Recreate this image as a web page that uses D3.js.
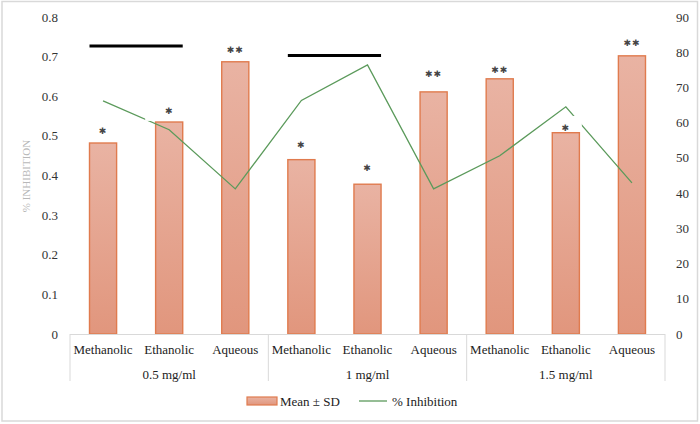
<!DOCTYPE html>
<html>
<head>
<meta charset="utf-8">
<script src="https://cdn.jsdelivr.net/npm/d3@7"></script>
<style>
  body { margin: 0; background: #fff; }
</style>
</head>
<body>
<svg id="chart" width="700" height="424"></svg>
<script>
// data
var groups = ['0.5 mg/ml', '1 mg/ml', '1.5 mg/ml'];
var extracts = ['Methanolic', 'Ethanolic', 'Aqueous'];
var meanSD = [0.482, 0.535, 0.687, 0.44, 0.378, 0.611, 0.644, 0.508, 0.702];
var inhibition = [66.2, 58.0, 41.2, 66.3, 76.4, 41.2, 50.6, 64.5, 42.9];
var stars = ['*', '*', '**', '*', '*', '**', '**', '*', '**'];
var starLevels = [0.513, 0.563, 0.717, 0.477, 0.419, 0.657, 0.667, 0.52, 0.735];
var brackets = [[0, 1, 0.727], [3, 4, 0.703]]; // from bar, to bar, level
var leftTicks = [0, 0.1, 0.2, 0.3, 0.4, 0.5, 0.6, 0.7, 0.8];
var rightTicks = [0, 10, 20, 30, 40, 50, 60, 70, 80, 90];

var serif = '"Liberation Serif", "Times New Roman", Tinos, "DejaVu Serif", serif';
var svg = d3.select('#chart').attr('font-family', serif);
var plotLeft = 70, plotRight = 665, plotTop = 17, plotBottom = 334;

// frame
svg.append('rect')
    .attr('x', 2).attr('y', 1.5).attr('width', 695.5).attr('height', 419.5)
    .attr('fill', '#fff').attr('stroke', '#d9d9d9').attr('stroke-width', 1.5);

var cats = d3.range(meanSD.length);
var x = d3.scaleBand().domain(cats).range([plotLeft, plotRight]);
var yL = d3.scaleLinear().domain([0, 0.8]).range([plotBottom, plotTop]);
var yR = d3.scaleLinear().domain([0, 90]).range([plotBottom, plotTop]);
var barW = x.bandwidth() * 0.41;
function cx(i) { return x(i) + x.bandwidth() / 2; }

var grad = svg.append('defs').append('linearGradient')
    .attr('id', 'barFill').attr('x1', 0).attr('y1', 0).attr('x2', 0).attr('y2', 1);
grad.append('stop').attr('offset', '0%').attr('stop-color', '#e9b3a3');
grad.append('stop').attr('offset', '100%').attr('stop-color', '#e1967d');

// left axis labels
svg.append('g').selectAll('text')
    .data(leftTicks)
  .enter().append('text')
    .attr('x', 58).attr('y', function (d) { return yL(d); })
    .attr('dy', '0.35em').attr('text-anchor', 'end')
    .attr('font-size', 13).attr('fill', '#333')
    .text(function (d) { return d === 0 ? '0' : d3.format('.1f')(d); });

// right axis labels
svg.append('g').selectAll('text')
    .data(rightTicks)
  .enter().append('text')
    .attr('x', 676).attr('y', function (d) { return yR(d); })
    .attr('dy', '0.35em').attr('text-anchor', 'start')
    .attr('font-size', 13).attr('fill', '#333')
    .text(function (d) { return d; });

svg.append('text')
    .attr('transform', 'translate(26,176) rotate(-90)')
    .attr('text-anchor', 'middle').attr('dy', '0.35em')
    .attr('font-size', 11).attr('fill', '#b8b8b8')
    .text('% INHIBITION');

// bars
svg.append('g').selectAll('rect')
    .data(meanSD)
  .enter().append('rect')
    .attr('x', function (d, i) { return cx(i) - barW / 2; })
    .attr('y', function (d) { return yL(d); })
    .attr('width', barW)
    .attr('height', function (d) { return plotBottom - yL(d); })
    .attr('fill', 'url(#barFill)')
    .attr('stroke', '#e07b4e').attr('stroke-width', 1.4);

// category axis
svg.append('line')
    .attr('x1', plotLeft).attr('x2', plotRight)
    .attr('y1', plotBottom + 0.5).attr('y2', plotBottom + 0.5)
    .attr('stroke', '#d9d9d9');
svg.append('g').selectAll('line')
    .data(d3.range(groups.length + 1))
  .enter().append('line')
    .attr('x1', function (g) { return g < groups.length ? x(g * 3) : plotRight; })
    .attr('x2', function (g) { return g < groups.length ? x(g * 3) : plotRight; })
    .attr('y1', plotBottom).attr('y2', 381)
    .attr('stroke', '#d9d9d9');

svg.append('g').selectAll('text')
    .data(cats)
  .enter().append('text')
    .attr('x', cx)
    .attr('y', 349).attr('dy', '0.35em').attr('text-anchor', 'middle')
    .attr('font-size', 13).attr('fill', '#222')
    .text(function (i) { return extracts[i % 3]; });

svg.append('g').selectAll('text')
    .data(groups)
  .enter().append('text')
    .attr('x', function (g, k) { return cx(k * 3 + 1); })
    .attr('y', 374).attr('dy', '0.35em').attr('text-anchor', 'middle')
    .attr('font-size', 13).attr('fill', '#222')
    .text(function (g) { return g; });

// % inhibition line
var line = d3.line()
    .x(function (d, i) { return cx(i); })
    .y(function (d) { return yR(d); });
svg.append('path')
    .datum(inhibition)
    .attr('d', line)
    .attr('fill', 'none').attr('stroke', '#5b9a5b').attr('stroke-width', 1.3);

// significance labels; the white boxes of two of them cut the line
var lab = svg.append('g').selectAll('g')
    .data(starLevels)
  .enter().append('g')
    .attr('transform', function (d, i) {
        return 'translate(' + cx(i) + ',' + yL(d) + ')';
    });
lab.filter(function (d, i) { return i === 1; })
    .append('rect')
    .attr('x', -24).attr('y', -11).attr('width', 44).attr('height', 21)
    .attr('fill', '#fff');
lab.filter(function (d, i) { return i === 7; })
    .append('rect')
    .attr('x', -10).attr('y', -12).attr('width', 26).attr('height', 16)
    .attr('fill', '#fff');
lab.append('text')
    .attr('text-anchor', 'middle').attr('dy', '0.35em')
    .attr('font-family', 'DejaVu Sans').attr('font-size', 9)
    .attr('letter-spacing', 1)
    .attr('fill', '#454545')
    .text(function (d, i) { return stars[i] === '**' ? '\u2731\u2731' : '\u2731'; });

// brackets
svg.append('g').selectAll('line')
    .data(brackets)
  .enter().append('line')
    .attr('x1', function (b) { return cx(b[0]) - barW / 2; })
    .attr('x2', function (b) { return cx(b[1]) + barW / 2; })
    .attr('y1', function (b) { return yL(b[2]); })
    .attr('y2', function (b) { return yL(b[2]); })
    .attr('stroke', '#000').attr('stroke-width', 3);

// legend
var lg = svg.append('g');
lg.append('rect')
    .attr('x', 247).attr('y', 397).attr('width', 30).attr('height', 8)
    .attr('fill', 'url(#barFill)').attr('stroke', '#e07b4e').attr('stroke-width', 1.2);
lg.append('text')
    .attr('x', 280).attr('y', 401).attr('dy', '0.35em')
    .attr('font-size', 13).attr('fill', '#222').text('Mean \u00b1 SD');
lg.append('line')
    .attr('x1', 359).attr('x2', 387).attr('y1', 401).attr('y2', 401)
    .attr('stroke', '#5b9a5b').attr('stroke-width', 1.3);
lg.append('text')
    .attr('x', 392).attr('y', 401).attr('dy', '0.35em')
    .attr('font-size', 13).attr('fill', '#222').text('% Inhibition');
</script>
</body>
</html>
